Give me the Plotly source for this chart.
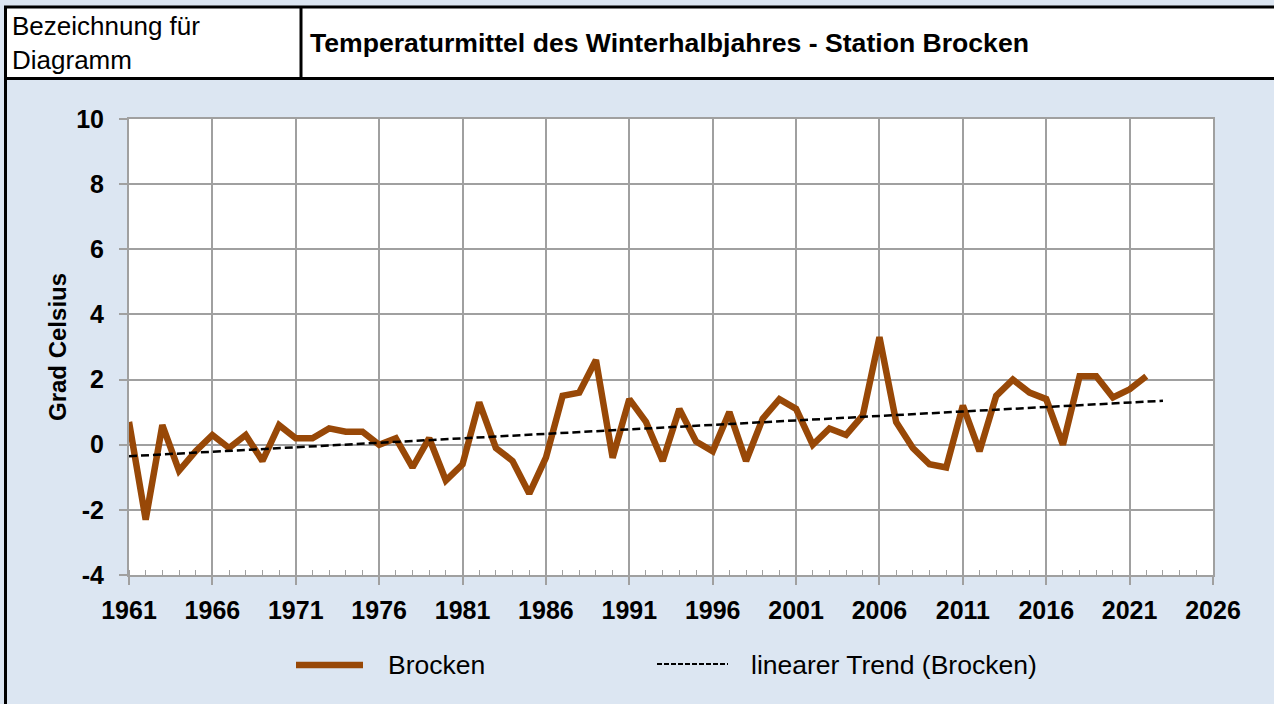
import numpy as np
import plotly.graph_objects as go

years = list(range(1961, 2023))
brocken = [0.7, -2.3, 0.6, -0.8, -0.2, 0.3, -0.1, 0.3, -0.5, 0.6,
           0.2, 0.2, 0.5, 0.4, 0.4, 0.0, 0.2, -0.7, 0.2, -1.1,
           -0.6, 1.3, -0.1, -0.5, -1.5, -0.4, 1.5, 1.6, 2.6, -0.4,
           1.4, 0.7, -0.5, 1.1, 0.1, -0.2, 1.0, -0.5, 0.8, 1.4,
           1.1, 0.0, 0.5, 0.3, 0.9, 3.3, 0.7, -0.1, -0.6, -0.7,
           1.2, -0.2, 1.5, 2.0, 1.6, 1.4, 0.0, 2.1, 2.1, 1.45,
           1.7, 2.1]
x_ticks = list(range(1961, 2027, 5))
y_ticks = list(range(-4, 11, 2))

header_left = "Bezeichnung für<br>Diagramm"
title_text = "Temperaturmittel des Winterhalbjahres - Station Brocken"
y_title = "Grad Celsius"
legend_names = ["Brocken", "linearer Trend (Brocken)"]

# linear trend (least squares), extended one period forward
slope, intercept = np.polyfit(years, brocken, 1)
trend_x = [years[0], years[-1] + 1]
trend_y = [slope * xx + intercept for xx in trend_x]

W, H = 1274, 704
L, R, T, B = 129, 1213, 119, 575
pw, ph = R - L, B - T


def px(x):
    return (x - L) / pw


def py(y):
    return (B - y) / ph


BROWN = "#984807"
GRID = "#A0A0A0"
BG = "#DCE6F2"
FONT = "Liberation Sans, Arial, sans-serif"

fig = go.Figure()
fig.add_trace(go.Scatter(x=years, y=brocken, mode="lines", name=legend_names[0],
                         line=dict(color=BROWN, width=6.5), showlegend=False))
fig.add_trace(go.Scatter(x=trend_x, y=trend_y, mode="lines", name=legend_names[1],
                         line=dict(color="black", width=2.5, dash="8px,4px"),
                         showlegend=False))

shapes = [
    # header white band
    dict(type="rect", xref="paper", yref="paper", x0=px(5), x1=px(W + 5), y0=py(79), y1=py(7),
         fillcolor="white", line=dict(width=0), layer="below"),
    # header borders
    dict(type="line", xref="paper", yref="paper", x0=px(4), x1=px(W + 5), y0=py(7), y1=py(7),
         line=dict(color="black", width=3)),
    dict(type="line", xref="paper", yref="paper", x0=px(4), x1=px(W + 5), y0=py(78.5), y1=py(78.5),
         line=dict(color="black", width=3)),
    dict(type="line", xref="paper", yref="paper", x0=px(5.5), x1=px(5.5), y0=py(6), y1=py(H + 5),
         line=dict(color="black", width=3)),
    dict(type="line", xref="paper", yref="paper", x0=px(301), x1=px(301), y0=py(7), y1=py(79),
         line=dict(color="black", width=3)),
    # legend samples
    dict(type="line", xref="paper", yref="paper", x0=px(296), x1=px(363), y0=py(665), y1=py(665),
         line=dict(color=BROWN, width=6.5)),
    dict(type="line", xref="paper", yref="paper", x0=px(657), x1=px(728), y0=py(664), y1=py(664),
         line=dict(color="black", width=2, dash="5px,2px")),
]

annotations = [
    dict(text=header_left, xref="paper", yref="paper", x=px(10), y=py(43), xanchor="left",
         yanchor="middle", showarrow=False, align="left",
         font=dict(family=FONT, size=26, color="black")),
    dict(text="<b>" + title_text + "</b>", xref="paper", yref="paper", x=px(308), y=py(43),
         xanchor="left", yanchor="middle", showarrow=False,
         font=dict(family=FONT, size=26.6, color="black")),
    dict(text="<b>" + y_title + "</b>", xref="paper", yref="paper", x=px(57), y=py(347),
         xanchor="center", yanchor="middle", showarrow=False, textangle=-90,
         font=dict(family=FONT, size=24, color="black")),
    dict(text=legend_names[0], xref="paper", yref="paper", x=px(386), y=py(665),
         xanchor="left", yanchor="middle", showarrow=False,
         font=dict(family=FONT, size=26.5, color="black")),
    dict(text=legend_names[1], xref="paper", yref="paper", x=px(749), y=py(665),
         xanchor="left", yanchor="middle", showarrow=False,
         font=dict(family=FONT, size=26.5, color="black")),
]

fig.update_layout(
    width=W, height=H,
    margin=dict(l=L, r=W - R, t=T, b=H - B, pad=0),
    paper_bgcolor=BG, plot_bgcolor="white",
    font=dict(family=FONT, color="black"),
    shapes=shapes, annotations=annotations,
    showlegend=False,
)
fig.update_xaxes(
    range=[1961, 2026], tickvals=x_ticks, ticktext=[str(v) for v in x_ticks],
    ticks="outside", ticklen=8, tickwidth=1.5, tickcolor=GRID,
    showgrid=True, gridcolor=GRID, gridwidth=1.5,
    showline=True, linecolor=GRID, linewidth=2, mirror=True,
    zeroline=False, ticklabelstandoff=4,
    tickfont=dict(family=FONT, size=25, color="black", weight="bold"),
    minor=dict(dtick=1, tick0=1961, ticks="inside", ticklen=5, tickcolor=GRID, tickwidth=1.2,
               showgrid=False),
)
fig.update_yaxes(
    range=[-4, 10], tickvals=y_ticks, ticktext=[str(v) for v in y_ticks],
    ticks="outside", ticklen=8, tickwidth=1.5, tickcolor=GRID,
    showgrid=True, gridcolor=GRID, gridwidth=1.5,
    showline=True, linecolor=GRID, linewidth=2, mirror=True,
    zeroline=False, ticklabelstandoff=10,
    tickfont=dict(family=FONT, size=25, color="black", weight="bold"),
)

fig.write_html("out.html", config={"displayModeBar": False},
               post_script="document.body.style.margin='0';")
